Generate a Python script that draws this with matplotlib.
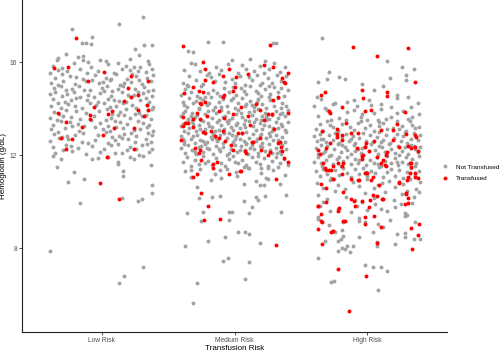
import numpy as np
import matplotlib.pyplot as plt
from matplotlib.lines import Line2D

plt.rcParams['font.family'] = ['Liberation Sans', 'DejaVu Sans']

categories = ["Low Risk", "Medium Risk", "High Risk"]
status_labels = ["Not Transfused", "Transfused"]

# each point: (jitter offset, hemoglobin g/dL)
low_not = [
    (-.37, 15.82), (-.21, 15.95), (-.08, 15.78), (.05, 15.9), (.18, 15.85), (.29, 15.8), (.36, 15.92), (-.30, 15.76), (.12, 15.97), (.24, 15.79),
    (-.39, 15.55), (-.26, 15.62), (-.16, 15.7), (-.03, 15.6), (.09, 15.52), (.21, 15.66), (.33, 15.58), (.38, 15.71), (-.11, 15.53), (.15, 15.72), (-.33, 15.68), (.27, 15.63),
    (-.35, 15.3), (-.24, 15.41), (-.14, 15.28), (-.05, 15.45), (.03, 15.33), (.11, 15.48), (.19, 15.27), (.26, 15.39), (.34, 15.31), (.39, 15.44), (-.30, 15.47), (-.19, 15.36), (.07, 15.26), (.23, 15.49),
    (-.38, 15.12), (-.29, 15.2), (-.20, 15.05), (-.12, 15.17), (-.02, 15.08), (.06, 15.22), (.14, 15.01), (.22, 15.14), (.30, 15.06), (.37, 15.19), (-.33, 15.02), (-.07, 15.24), (.17, 15.1), (.28, 15.23), (.01, 15.15),
    (-.36, 14.88), (-.27, 14.79), (-.17, 14.95), (-.09, 14.82), (.00, 14.9), (.08, 14.77), (.16, 14.98), (.25, 14.85), (.32, 14.92), (.39, 14.8), (-.31, 14.97), (-.22, 14.86), (.04, 14.99), (.12, 14.83), (.35, 14.76), (-.13, 14.78),
    (-.39, 14.62), (-.30, 14.55), (-.21, 14.7), (-.10, 14.58), (-.01, 14.66), (.07, 14.52), (.15, 14.73), (.24, 14.6), (.31, 14.68), (.38, 14.54), (-.35, 14.72), (-.16, 14.51), (.02, 14.74), (.20, 14.57), (.27, 14.71), (-.26, 14.64),
    (-.37, 14.4), (-.28, 14.3), (-.19, 14.46), (-.11, 14.35), (-.03, 14.27), (.05, 14.42), (.13, 14.32), (.22, 14.48), (.29, 14.37), (.36, 14.28), (-.33, 14.26), (-.06, 14.49), (.18, 14.29), (.33, 14.45), (-.23, 14.38), (.09, 14.36),
    (-.38, 14.1), (-.25, 14.2), (-.15, 14.04), (-.04, 14.15), (.06, 14.08), (.16, 14.22), (.26, 14.03), (.34, 14.17), (.39, 14.06), (-.31, 14.01), (-.20, 14.13), (.02, 14.24), (.11, 14.12), (.23, 14.14), (-.09, 14.23),
    (-.36, 13.85), (-.27, 13.95), (-.12, 13.8), (-.02, 13.9), (.08, 13.78), (.18, 13.97), (.28, 13.83), (.35, 13.92), (-.32, 13.77), (-.19, 13.88), (.04, 13.99), (.14, 13.86), (.25, 13.76), (.38, 13.98),
    (-.39, 13.6), (-.29, 13.7), (-.16, 13.55), (-.06, 13.68), (.03, 13.52), (.12, 13.73), (.21, 13.58), (.30, 13.66), (.37, 13.54), (-.34, 13.51), (-.23, 13.63), (.07, 13.61), (.17, 13.74), (.33, 13.71),
    (-.37, 13.3), (-.24, 13.42), (-.13, 13.27), (-.01, 13.38), (.10, 13.48), (.19, 13.33), (.27, 13.45), (.36, 13.28), (-.31, 13.46), (-.18, 13.35), (.05, 13.26), (.14, 13.41), (.31, 13.36), (-.08, 13.49),
    (-.38, 13.1), (-.28, 13.18), (-.17, 13.05), (-.05, 13.2), (.06, 13.02), (.16, 13.15), (.24, 13.08), (.34, 13.22), (.39, 13.04), (-.33, 13.01), (-.22, 13.24), (.01, 13.12), (.11, 13.19), (.29, 13.13),
    (-.36, 12.9), (-.26, 12.8), (-.14, 12.95), (-.03, 12.85), (.08, 12.78), (.17, 12.92), (.26, 12.83), (.35, 12.97), (-.30, 12.76), (-.20, 12.88), (.03, 12.99), (.13, 12.81), (.22, 12.96), (.38, 12.86),
    (-.39, 12.6), (-.25, 12.7), (-.15, 12.55), (-.05, 12.65), (.05, 12.52), (.15, 12.72), (.25, 12.58), (.33, 12.68), (-.32, 12.74), (-.10, 12.51), (.10, 12.63), (.20, 12.69), (.37, 12.56),
    (-.37, 12.35), (-.27, 12.45), (-.18, 12.3), (-.07, 12.4), (.02, 12.28), (.12, 12.47), (.21, 12.33), (.30, 12.42), (.38, 12.27), (-.23, 12.38), (.07, 12.43), (.26, 12.26), (.34, 12.48),
    (-.35, 12.1), (-.22, 12.18), (-.12, 12.04), (-.01, 12.15), (.10, 12.08), (.19, 12.2), (.28, 12.02), (.36, 12.13), (-.29, 12.22), (.15, 12.11),
    (-.22, 17.42), (.13, 17.63), (.31, 17.94), (-.15, 16.8), (-.12, 16.82), (-.07, 17.1), (-.08, 16.78), (.32, 16.73), (.38, 16.73), (.25, 16.56), (.28, 16.3),
    (-.33, 16.17), (-.34, 16.1), (-.18, 16.2), (-.14, 16.25), (-.14, 16.1), (-.10, 16.02), (.03, 16.05), (-.01, 16.08), (.21, 16.15), (.35, 16.05), (-.27, 16.35),
    (-.39, 7.87), (.13, 6.5), (.17, 6.8), (.31, 7.2), (-.16, 9.93), (.27, 10.02), (.30, 10.1), (.38, 10.35), (.38, 10.7), (.37, 11.57), (-.25, 10.84), (-.13, 10.97),
    (-.21, 11.27), (-.34, 11.48), (-.31, 11.83), (-.37, 11.97), (-.07, 11.83), (.12, 11.7), (.12, 11.6), (.16, 11.31), (.16, 11.1), (.21, 11.9), (.24, 11.83),
    (.31, 11.95), (.15, 10.15), (.05, 11.92), (-.03, 11.88),
]
low_tx = [
    (-.36, 15.74), (-.19, 17.03), (-.25, 15.78), (-.10, 15.18), (.02, 15.57), (-.33, 13.81), (-.27, 13.42), (-.31, 12.73), (-.27, 12.26), (-.22, 12.69), (-.15, 13.2),
    (-.09, 13.72), (-.09, 13.55), (-.06, 14.06), (.01, 12.86), (.04, 11.91), (.05, 13.76), (.08, 13.89), (.09, 13.16), (-.01, 10.8), (.13, 10.11), (.17, 14.32),
    (.20, 14.88), (.22, 15.4), (.22, 14.5), (.27, 14.58), (.27, 13.94), (.24, 12.26), (.24, 13.16), (.32, 13.68), (.34, 14.15), (.35, 13.94), (.35, 15.18),
]

med_not = [
    (-.35, 16.47), (-.31, 16.43), (-.20, 16.86), (-.09, 16.86), (.29, 16.8), (.31, 16.84), (.23, 16.05), (-.02, 16.1), (.12, 16.15),
    (-.33, 15.95), (-.30, 15.9), (-.26, 15.6), (-.14, 15.78), (-.05, 15.93), (.03, 15.55), (.09, 15.72), (.15, 15.62), (.19, 15.85), (.26, 15.7), (.30, 15.98), (.34, 15.57), (.38, 15.8), (-.38, 15.65), (-.19, 15.52), (-.10, 15.64), (.06, 15.88), (.22, 15.53),
    (-.39, 15.1), (-.34, 15.4), (-.29, 15.22), (-.24, 15.05), (-.18, 15.35), (-.12, 15.48), (-.07, 15.15), (-.02, 15.28), (.04, 15.42), (.08, 15.03), (.13, 15.25), (.17, 15.46), (.21, 15.12), (.25, 15.33), (.28, 15.08), (.32, 15.44), (.35, 15.2), (.39, 15.38), (-.36, 15.02), (-.21, 15.45), (-.15, 15.18), (.00, 15.08), (.11, 15.36), (.19, 15.01),
    (-.40, 14.6), (-.37, 14.85), (-.33, 14.72), (-.28, 14.55), (-.25, 14.95), (-.20, 14.66), (-.16, 14.82), (-.11, 14.52), (-.08, 14.9), (-.04, 14.7), (.01, 14.58), (.05, 14.88), (.09, 14.64), (.12, 14.97), (.16, 14.76), (.20, 14.53), (.23, 14.84), (.27, 14.62), (.30, 14.92), (.33, 14.7), (.37, 14.56), (.40, 14.8), (-.35, 14.98), (-.22, 14.51), (-.13, 14.68), (-.01, 14.94), (.07, 14.75), (.18, 14.66), (.26, 14.99), (.35, 14.89),
    (-.39, 14.3), (-.36, 14.08), (-.34, 14.45), (-.31, 14.22), (-.27, 14.02), (-.24, 14.38), (-.21, 14.15), (-.18, 14.48), (-.15, 14.05), (-.12, 14.28), (-.09, 14.42), (-.06, 14.12), (-.03, 14.35), (.00, 14.03), (.03, 14.25), (.06, 14.47), (.09, 14.18), (.12, 14.33), (.15, 14.06),
    (.18, 14.4), (.21, 14.21), (.24, 14.01), (.27, 14.36), (.30, 14.13), (.33, 14.44), (.36, 14.26), (.39, 14.09), (-.38, 14.17), (-.29, 14.32), (-.19, 14.25), (-.10, 14.07), (-.01, 14.46), (.08, 14.1), (.17, 14.27), (.26, 14.49), (.35, 14.04), (-.26, 14.44), (.13, 14.16),
    (-.40, 13.7), (-.37, 13.9), (-.35, 13.55), (-.32, 13.8), (-.30, 13.62), (-.27, 13.97), (-.25, 13.52), (-.22, 13.75), (-.20, 13.88), (-.17, 13.6), (-.14, 13.82), (-.12, 13.53), (-.10, 13.95), (-.07, 13.68), (-.05, 13.85), (-.02, 13.58), (.01, 13.78), (.03, 13.92), (.06, 13.63), (.08, 13.5), (.11, 13.86), (.13, 13.72),
    (.16, 13.57), (.18, 13.98), (.21, 13.66), (.23, 13.81), (.26, 13.54), (.28, 13.74), (.31, 13.91), (.33, 13.6), (.36, 13.83), (.38, 13.67), (.40, 13.96), (-.39, 13.83), (-.33, 13.66), (-.28, 13.73), (-.16, 13.93), (-.04, 13.51), (.05, 13.79), (.15, 13.9), (.24, 13.62), (.34, 13.76), (-.09, 13.64), (.20, 13.53),
    (-.40, 13.25), (-.38, 13.05), (-.36, 13.42), (-.34, 13.15), (-.31, 13.35), (-.29, 13.02), (-.27, 13.28), (-.24, 13.47), (-.22, 13.1), (-.20, 13.38), (-.17, 13.2), (-.15, 13.04), (-.13, 13.44), (-.10, 13.3), (-.08, 13.12), (-.06, 13.48), (-.03, 13.22), (-.01, 13.06), (.02, 13.4), (.04, 13.17), (.07, 13.33), (.09, 13.01), (.11, 13.45), (.14, 13.24),
    (.16, 13.09), (.19, 13.37), (.21, 13.14), (.24, 13.49), (.26, 13.27), (.28, 13.03), (.31, 13.41), (.33, 13.18), (.35, 13.32), (.38, 13.07), (.40, 13.44), (-.39, 13.34), (-.32, 13.48), (-.26, 13.13), (-.19, 13.26), (-.12, 13.08), (-.05, 13.36), (.01, 13.29), (.08, 13.21), (.15, 13.43), (.22, 13.31), (.29, 13.16), (.36, 13.23), (-.23, 13.0),
    (-.40, 12.8), (-.38, 12.6), (-.35, 12.95), (-.33, 12.7), (-.30, 12.52), (-.28, 12.88), (-.26, 12.65), (-.23, 12.98), (-.21, 12.55), (-.18, 12.78), (-.16, 12.9), (-.13, 12.62), (-.11, 12.85), (-.09, 12.51), (-.06, 12.73), (-.04, 12.93), (-.01, 12.58), (.01, 12.82), (.04, 12.68), (.06, 12.96), (.09, 12.54), (.11, 12.75), (.14, 12.89), (.16, 12.6),
    (.19, 12.83), (.21, 12.53), (.24, 12.72), (.26, 12.94), (.29, 12.64), (.31, 12.86), (.34, 12.57), (.36, 12.77), (.39, 12.99), (-.39, 12.7), (-.31, 12.83), (-.24, 12.59), (-.17, 12.67), (-.08, 12.97), (.00, 12.71), (.07, 12.61), (.13, 12.52), (.20, 12.92), (.27, 12.8), (.33, 12.66), (.38, 12.55), (-.14, 12.74), (.17, 12.71), (-.02, 12.87),
    (-.40, 12.3), (-.37, 12.1), (-.35, 12.42), (-.32, 12.2), (-.29, 12.03), (-.27, 12.36), (-.24, 12.15), (-.22, 12.47), (-.19, 12.25), (-.16, 12.06), (-.14, 12.4), (-.11, 12.18), (-.09, 12.33), (-.06, 12.02), (-.03, 12.27), (.00, 12.45), (.02, 12.12), (.05, 12.38), (.08, 12.22), (.10, 12.05), (.13, 12.43), (.15, 12.28),
    (.18, 12.1), (.21, 12.35), (.23, 12.19), (.26, 12.48), (.28, 12.07), (.31, 12.32), (.34, 12.16), (.36, 12.44), (.39, 12.24), (-.38, 12.46), (-.30, 12.14), (-.21, 12.31), (-.12, 12.26), (-.04, 12.09), (.04, 12.2), (.12, 12.3), (.19, 12.41), (.27, 12.23), (.35, 12.04), (-.25, 12.39), (.09, 12.46), (.32, 12.11),
    (-.39, 11.7), (-.36, 11.9), (-.33, 11.55), (-.30, 11.8), (-.27, 11.62), (-.24, 11.95), (-.20, 11.75), (-.17, 11.58), (-.14, 11.88), (-.10, 11.68), (-.07, 11.52), (-.04, 11.83), (-.01, 11.97), (.03, 11.65), (.06, 11.78),
    (.09, 11.56), (.13, 11.92), (.16, 11.72), (.19, 11.6), (.22, 11.86), (.25, 11.54), (.28, 11.76), (.31, 11.93), (.34, 11.66), (.37, 11.82), (.40, 11.58), (-.22, 11.64), (.00, 11.7), (.18, 11.98), (.33, 11.5),
    (-.37, 11.3), (-.26, 11.42), (-.15, 11.2), (-.06, 11.38), (.02, 11.12), (.11, 11.45), (.20, 11.25), (.29, 11.35), (.38, 11.15), (-.33, 11.05), (.07, 11.48), (.24, 11.02),
    (-.37, 8.09), (-.28, 6.49), (-.31, 5.63), (-.09, 7.44), (-.05, 7.57), (.11, 7.4), (.08, 6.67), (-.20, 8.3), (-.07, 8.47), (.03, 8.69), (.08, 8.69), (.11, 8.6), (.19, 8.2),
    (-.36, 9.5), (-.24, 9.55), (-.25, 9.16), (-.04, 9.2), (-.04, 9.55), (-.02, 9.55), (.11, 9.5), (.35, 9.55), (.13, 9.76), (.07, 10.02), (.18, 10.06), (.16, 10.2),
    (.23, 10.24), (.39, 10.28), (-.17, 10.2), (-.11, 10.24), (-.27, 10.15), (-.28, 10.62), (-.18, 10.92), (-.10, 11.0), (.07, 10.75), (.16, 10.88), (.19, 10.71),
    (.22, 10.71), (.25, 10.97), (.34, 10.75), (.01, 11.27), (-.11, 11.35), (-.33, 11.35), (.10, 11.44), (.20, 11.44), (.25, 11.44),
]
med_tx = [
    (-.39, 16.69), (.27, 16.73), (-.24, 16.0), (-.22, 15.7), (-.04, 15.7), (.01, 15.36), (.10, 15.48), (.22, 15.87), (.29, 15.78), (.40, 15.53), (.36, 15.31), (.37, 15.14),
    (.38, 15.1), (-.38, 14.67), (-.31, 14.92), (-.27, 14.75), (-.24, 14.71), (-.22, 15.23), (-.16, 15.14), (-.09, 15.4), (-.01, 14.75), (.00, 14.92), (-.08, 14.58), (-.09, 14.49),
    (-.26, 14.24), (-.25, 14.19), (-.22, 14.28), (.19, 13.94), (.33, 14.49), (.29, 14.37), (.25, 13.76), (.28, 13.76), (.40, 13.8), (-.39, 13.63), (-.37, 13.38), (-.39, 13.25),
    (-.35, 13.38), (-.31, 13.55), (-.28, 13.8), (-.26, 13.55), (-.21, 13.68), (-.31, 13.2), (-.24, 12.99), (-.22, 12.95), (-.12, 13.89), (-.08, 13.59), (-.01, 13.76), (-.09, 13.03),
    (-.15, 12.82), (-.12, 12.73), (-.40, 12.65), (-.30, 12.3), (-.26, 12.22), (-.27, 12.09), (-.25, 11.79), (-.16, 11.61), (-.16, 11.44), (-.13, 11.7), (-.07, 12.6), (-.01, 12.22),
    (.03, 12.95), (.06, 12.95), (.08, 12.17), (.09, 12.09), (.13, 12.56), (.14, 12.56), (.19, 12.73), (.20, 12.22), (.27, 12.13), (.25, 12.0), (.33, 12.52), (.34, 12.56),
    (.35, 12.34), (.36, 12.17), (.40, 11.7), (.37, 11.87), (.05, 11.31), (-.04, 11.18), (-.31, 11.05), (-.28, 11.18), (-.25, 10.37), (-.20, 9.8), (-.23, 9.2), (-.11, 9.25),
    (.31, 8.13), (.31, 10.97), (.04, 11.31), (.12, 13.3), (.05, 14.05), (-.18, 13.05), (.22, 13.5), (.16, 14.2), (-.03, 12.45), (.30, 13.1), (.10, 13.7),
]

high_not = [
    (-.34, 17.03), (.15, 16.04), (.26, 15.78), (.35, 15.7), (.29, 15.44), (.29, 15.23), (-.29, 15.57), (-.30, 15.27), (-.37, 15.14), (-.21, 15.35), (-.17, 15.27), (.12, 14.97),
    (.17, 15.31), (-.38, 14.5), (-.04, 15.05), (.22, 14.6), (.31, 14.5), (.05, 14.8),
    (-.40, 14.11), (-.32, 14.02), (-.26, 14.19), (-.24, 14.24), (-.10, 14.37), (-.08, 14.11), (.01, 14.37), (.03, 14.15), (.18, 14.06), (.22, 14.45), (.33, 14.06), (-.15, 14.3), (.10, 14.2), (-.35, 14.4), (.38, 14.25),
    (-.15, 13.85), (-.04, 13.76), (-.05, 13.63), (.05, 13.8), (.10, 13.98), (.22, 13.8), (.34, 13.63), (-.27, 13.5), (-.16, 13.5), (.00, 13.5), (.08, 13.5), (-.37, 13.7), (-.30, 13.92), (-.21, 13.6), (.14, 13.55), (.27, 13.9), (.39, 13.75), (-.10, 13.95), (.18, 13.65), (.31, 13.55),
    (-.13, 13.2), (.09, 13.42), (.09, 13.25), (.19, 13.16), (.36, 13.16), (.26, 13.25), (.34, 13.3), (-.39, 13.1), (-.36, 13.35), (-.33, 13.02), (-.30, 13.45), (-.26, 13.22), (-.22, 13.05), (-.19, 13.32),
    (-.10, 13.08), (-.07, 13.4), (-.02, 13.15), (.02, 13.28), (.05, 13.05), (.12, 13.38), (.15, 13.1), (.22, 13.45), (.29, 13.02), (.32, 13.48), (.39, 13.2), (-.05, 13.48), (.24, 13.12), (-.28, 13.28),
    (-.40, 12.8), (-.38, 12.6), (-.36, 12.92), (-.33, 12.7), (-.31, 12.55), (-.29, 12.85), (-.26, 12.65), (-.24, 12.97), (-.21, 12.52), (-.19, 12.77), (-.16, 12.9), (-.14, 12.6), (-.11, 12.82), (-.09, 12.53), (-.06, 12.72), (-.03, 12.95), (-.01, 12.62), (.02, 12.85), (.04, 12.57),
    (.07, 12.76), (.09, 12.98), (.12, 12.66), (.14, 12.88), (.17, 12.54), (.20, 12.74), (.22, 12.92), (.25, 12.61), (.27, 12.83), (.30, 12.5), (.33, 12.7), (.35, 12.94), (.38, 12.63), (.40, 12.86), (-.35, 12.68), (-.12, 12.71), (.10, 12.58), (.28, 12.99), (-.23, 12.78),
    (-.39, 12.3), (-.37, 12.05), (-.35, 12.45), (-.32, 12.18), (-.30, 12.38), (-.27, 12.02), (-.25, 12.27), (-.22, 12.48), (-.20, 12.12), (-.17, 12.35), (-.15, 12.2), (-.12, 12.04), (-.10, 12.42), (-.07, 12.25), (-.05, 12.1), (-.02, 12.38), (.01, 12.16), (.03, 12.46), (.06, 12.22), (.08, 12.03),
    (.11, 12.33), (.13, 12.15), (.16, 12.47), (.18, 12.28), (.21, 12.08), (.23, 12.4), (.26, 12.19), (.28, 12.33), (.31, 12.06), (.33, 12.44), (.36, 12.24), (.38, 12.12), (.40, 12.36), (-.33, 12.1), (-.19, 12.44), (-.04, 12.3), (.09, 12.4), (.24, 12.01), (.35, 12.41), (-.09, 12.18),
    (-.40, 11.7), (-.37, 11.9), (-.34, 11.55), (-.31, 11.78), (-.29, 11.98), (-.26, 11.62), (-.23, 11.85), (-.20, 11.52), (-.18, 11.74), (-.15, 11.93), (-.12, 11.6), (-.09, 11.82), (-.07, 11.66), (-.04, 11.95), (-.01, 11.56), (.02, 11.8), (.05, 11.68), (.07, 11.9),
    (.10, 11.53), (.13, 11.76), (.15, 11.97), (.18, 11.64), (.21, 11.86), (.23, 11.58), (.26, 11.72), (.29, 11.92), (.31, 11.6), (.34, 11.83), (.37, 11.68), (.39, 11.96), (-.35, 11.65), (-.21, 11.9), (-.06, 11.78), (.08, 11.62), (.22, 11.7), (.36, 11.51),
    (-.39, 11.3), (-.36, 11.08), (-.33, 11.42), (-.30, 11.2), (-.27, 11.02), (-.24, 11.36), (-.21, 11.15), (-.18, 11.46), (-.15, 11.25), (-.12, 11.05), (-.09, 11.38), (-.06, 11.18), (-.03, 11.45), (.00, 11.1),
    (.03, 11.32), (.06, 11.22), (.09, 11.48), (.12, 11.04), (.15, 11.28), (.18, 11.4), (.21, 11.12), (.24, 11.35), (.27, 11.03), (.30, 11.26), (.33, 11.44), (.36, 11.14), (.39, 11.33), (-.01, 11.27),
    (-.38, 10.8), (-.33, 10.6), (-.28, 10.92), (-.22, 10.7), (-.17, 10.55), (-.11, 10.85), (-.06, 10.65), (.00, 10.97), (.05, 10.58), (.11, 10.78), (.16, 10.9), (.21, 10.62), (.27, 10.74), (.32, 10.95), (.37, 10.52), (-.25, 10.97), (.08, 10.72), (.40, 10.85),
    (-.37, 10.3), (-.30, 10.1), (-.24, 10.45), (-.16, 10.2), (-.09, 10.05), (-.02, 10.38), (.05, 10.15), (.13, 10.42), (.20, 10.08), (.26, 10.33), (.35, 10.2), (.39, 10.4), (-.33, 9.97), (.30, 10.46),
    (-.36, 9.8), (-.28, 9.6), (-.22, 9.7), (-.12, 9.55), (-.08, 9.83), (.00, 9.65), (.06, 9.9), (.15, 9.58), (.21, 9.76), (.28, 9.52), (.34, 9.95), (-.04, 9.98), (.10, 9.7), (.25, 9.88),
    (-.37, 9.33), (-.37, 9.25), (-.29, 9.0), (-.06, 9.3), (-.06, 9.16), (-.02, 9.12), (.30, 9.42), (.28, 9.38), (.17, 9.2), (.08, 9.05), (-.18, 9.1), (.36, 9.1),
    (-.26, 8.73), (-.24, 8.69), (-.19, 8.78), (-.18, 8.52), (.04, 8.69), (.28, 8.65), (.28, 8.47), (-.06, 8.47), (.12, 8.9), (.22, 8.6),
    (-.32, 8.3), (-.22, 8.3), (-.20, 8.39), (-.19, 8.0), (-.17, 7.96), (-.15, 8.09), (-.11, 8.1), (.07, 8.26), (.07, 8.09), (.21, 8.17), (.35, 8.39), (.40, 8.39),
    (-.37, 7.57), (-.22, 7.87), (-.13, 7.83), (-.27, 6.54), (-.25, 6.58), (-.02, 7.27), (.04, 7.18), (.10, 7.18), (.15, 7.01), (.08, 6.19),
]
high_tx = [
    (-.11, 16.65), (.07, 16.26), (.31, 16.6), (.36, 15.14), (.15, 14.71), (.15, 14.54), (-.04, 14.8), (-.03, 14.45), (-.32, 14.71), (-.35, 14.58), (-.29, 13.9), (-.28, 13.8),
    (-.19, 14.06), (.03, 13.94), (-.02, 13.9), (.28, 13.85), (-.16, 13.38), (-.23, 13.12), (.10, 13.08), (.19, 13.08), (.29, 12.9), (.36, 12.86), (.37, 12.77),
    (-.34, 13.03), (-.37, 12.22), (-.36, 12.04), (-.31, 12.3), (-.23, 12.9), (-.23, 12.77), (-.19, 12.86), (-.19, 12.65), (-.12, 12.95), (-.07, 12.95), (-.02, 12.34),
    (-.04, 11.96), (-.03, 12.0), (-.01, 12.52), (.07, 11.91), (.14, 12.0), (.19, 12.65), (.15, 12.13), (.24, 12.34), (.31, 12.39), (.33, 12.3), (.36, 12.34), (.38, 12.17),
    (.32, 11.66), (.33, 11.48), (.36, 11.22), (.36, 11.05), (.30, 10.92), (-.33, 11.66), (-.32, 11.44), (-.31, 11.35), (-.29, 11.35), (-.27, 11.35), (-.26, 11.53), (-.22, 11.66),
    (-.19, 11.53), (-.18, 11.66), (-.26, 10.97), (-.35, 10.75), (-.31, 10.58), (-.37, 9.8), (-.31, 9.97), (-.34, 9.12), (-.37, 8.82), (-.34, 8.17), (-.27, 8.69), (-.22, 7.1),
    (-.14, 5.29), (-.12, 10.97), (-.07, 10.92), (-.06, 10.92), (-.04, 11.83), (-.02, 11.22), (.00, 11.22), (.01, 12.17), (.03, 10.92), (.04, 11.05), (.09, 10.71), (.10, 11.66),
    (.12, 11.79), (.13, 11.57), (.14, 11.53), (.24, 10.8), (-.19, 11.18), (-.12, 10.11), (-.10, 10.02), (-.18, 10.41), (-.22, 9.59), (-.21, 9.72), (-.18, 9.16), (-.09, 9.8),
    (-.04, 10.02), (.01, 9.76), (.02, 10.06), (-.02, 9.33), (-.02, 9.03), (.07, 8.22), (-.01, 6.8), (.10, 8.9), (.11, 10.11), (.29, 10.32), (.28, 9.89), (.31, 9.93),
    (.33, 8.86), (.34, 7.96), (.39, 9.03), (.38, 8.56), (.05, 9.38), (.04, 10.28), (.07, 10.24), (.12, 10.11), (.31, 10.15), (.29, 10.37), (.24, 10.85), (.31, 11.05),
    (.32, 11.22), (.38, 11.0), (.33, 11.66), (-.35, 9.46), (-.35, 9.16), (-.37, 9.8), (-.26, 8.73), (-.17, 9.16), (.05, 12.6), (-.08, 12.3), (.22, 13.35), (-.28, 12.5),
]

grey = "#a3a3a3"
red = "#ff0000"

fig = plt.figure(figsize=(5, 3.52), dpi=100)
ax = fig.add_axes([22 / 500, 20 / 352, 425 / 500, 332 / 352])

groups = [(low_not, low_tx), (med_not, med_tx), (high_not, high_tx)]

# grey first, red on top
for i, (nt, tx) in enumerate(groups, start=1):
    nt = np.array(nt)
    ax.scatter(i + nt[:, 0], nt[:, 1], s=8, color=grey, linewidths=0)
for i, (nt, tx) in enumerate(groups, start=1):
    tx = np.array(tx)
    ax.scatter(i + tx[:, 0], tx[:, 1], s=8, color=red, linewidths=0)

ax.set_xlim(0.4, 3.6)
ax.set_ylim(4.39, 18.67)
ax.set_xticks([1, 2, 3], categories)
ax.set_yticks([8, 12, 16])
for side in ["top", "right"]:
    ax.spines[side].set_visible(False)
for side in ["left", "bottom"]:
    ax.spines[side].set_linewidth(0.8)
    ax.spines[side].set_color("#222222")
ax.tick_params(length=2.2, width=0.6, color="#333333", labelcolor="#4d4d4d", labelsize=4.8, pad=1.2)
ax.set_xlabel("Transfusion Risk", fontsize=5.8, labelpad=1)
ax.set_ylabel("Hemoglobin (g/dL)", fontsize=5.8, labelpad=2)

handles = [
    Line2D([], [], marker="o", linestyle="", markersize=2.8, markerfacecolor=grey, markeredgewidth=0),
    Line2D([], [], marker="o", linestyle="", markersize=2.8, markerfacecolor=red, markeredgewidth=0),
]
fig.legend(handles, status_labels, loc="center left", bbox_to_anchor=(0.884, 0.51), frameon=False,
           fontsize=4.6, handlelength=1.0, handletextpad=1.2, labelspacing=0.9, borderpad=0, borderaxespad=0)

fig.savefig("out.png", dpi=100)
